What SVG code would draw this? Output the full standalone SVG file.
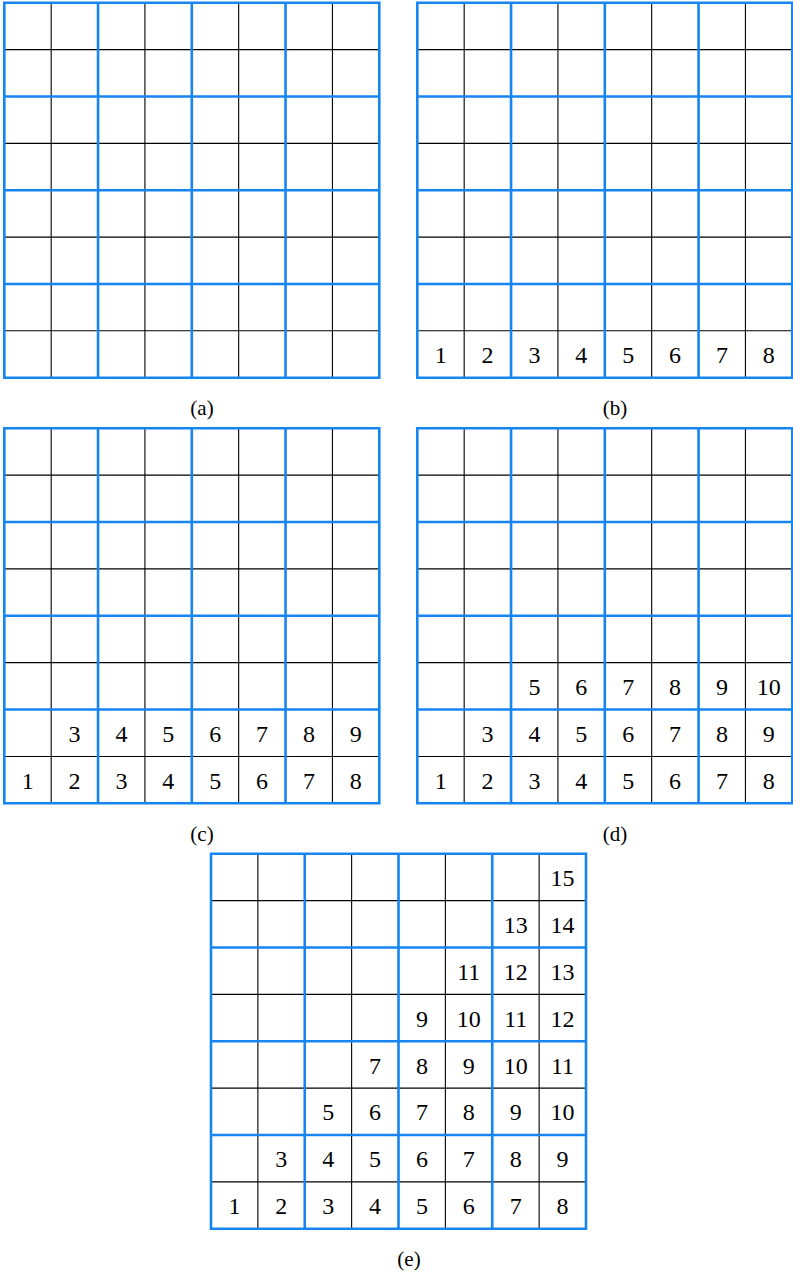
<svg xmlns="http://www.w3.org/2000/svg" xmlns:xlink="http://www.w3.org/1999/xlink" width="793" height="1276" viewBox="0 0 793 1276">
<style>
.bk{stroke:#000;stroke-width:1.1;fill:none}
.bl{stroke:#1685f2;stroke-width:2.6;fill:none;stroke-linecap:square}
.n{font-family:"Liberation Serif","DejaVu Serif",serif;font-size:24px;text-anchor:middle;fill:#000}
.cap{font-family:"Liberation Serif","DejaVu Serif",serif;font-size:21px;text-anchor:middle;fill:#000}
</style>
<defs>
<g id="grid">
<path class="bk" d="M46.875 0V375M140.625 0V375M234.375 0V375M328.125 0V375M0 46.875H375M0 140.625H375M0 234.375H375M0 328.125H375"/>
<path class="bl" d="M0 0V375M93.75 0V375M187.5 0V375M281.25 0V375M375 0V375M0 0H375M0 93.75H375M0 187.5H375M0 281.25H375M0 375H375"/>
</g>
</defs>
<g id="panel-a" transform="translate(4.3,2.7)">
<use xlink:href="#grid"/>
</g>
<g id="panel-b" transform="translate(417.3,2.7)">
<use xlink:href="#grid"/>
<g class="n">
<text x="23.44" y="360.56">1</text><text x="70.31" y="360.56">2</text><text x="117.19" y="360.56">3</text><text x="164.06" y="360.56">4</text><text x="210.94" y="360.56">5</text><text x="257.81" y="360.56">6</text><text x="304.69" y="360.56">7</text><text x="351.56" y="360.56">8</text>
</g>
</g>
<g id="panel-c" transform="translate(4.3,428.3)">
<use xlink:href="#grid"/>
<g class="n">
<text x="23.44" y="360.56">1</text><text x="70.31" y="360.56">2</text><text x="117.19" y="360.56">3</text><text x="164.06" y="360.56">4</text><text x="210.94" y="360.56">5</text><text x="257.81" y="360.56">6</text><text x="304.69" y="360.56">7</text><text x="351.56" y="360.56">8</text>
<text x="70.31" y="313.69">3</text><text x="117.19" y="313.69">4</text><text x="164.06" y="313.69">5</text><text x="210.94" y="313.69">6</text><text x="257.81" y="313.69">7</text><text x="304.69" y="313.69">8</text><text x="351.56" y="313.69">9</text>
</g>
</g>
<g id="panel-d" transform="translate(417.3,428.3)">
<use xlink:href="#grid"/>
<g class="n">
<text x="23.44" y="360.56">1</text><text x="70.31" y="360.56">2</text><text x="117.19" y="360.56">3</text><text x="164.06" y="360.56">4</text><text x="210.94" y="360.56">5</text><text x="257.81" y="360.56">6</text><text x="304.69" y="360.56">7</text><text x="351.56" y="360.56">8</text>
<text x="70.31" y="313.69">3</text><text x="117.19" y="313.69">4</text><text x="164.06" y="313.69">5</text><text x="210.94" y="313.69">6</text><text x="257.81" y="313.69">7</text><text x="304.69" y="313.69">8</text><text x="351.56" y="313.69">9</text>
<text x="117.19" y="266.81">5</text><text x="164.06" y="266.81">6</text><text x="210.94" y="266.81">7</text><text x="257.81" y="266.81">8</text><text x="304.69" y="266.81">9</text><text x="351.56" y="266.81">10</text>
</g>
</g>
<g id="panel-e" transform="translate(211,853.7)">
<use xlink:href="#grid"/>
<g class="n">
<text x="23.44" y="360.56">1</text><text x="70.31" y="360.56">2</text><text x="117.19" y="360.56">3</text><text x="164.06" y="360.56">4</text><text x="210.94" y="360.56">5</text><text x="257.81" y="360.56">6</text><text x="304.69" y="360.56">7</text><text x="351.56" y="360.56">8</text>
<text x="70.31" y="313.69">3</text><text x="117.19" y="313.69">4</text><text x="164.06" y="313.69">5</text><text x="210.94" y="313.69">6</text><text x="257.81" y="313.69">7</text><text x="304.69" y="313.69">8</text><text x="351.56" y="313.69">9</text>
<text x="117.19" y="266.81">5</text><text x="164.06" y="266.81">6</text><text x="210.94" y="266.81">7</text><text x="257.81" y="266.81">8</text><text x="304.69" y="266.81">9</text><text x="351.56" y="266.81">10</text>
<text x="164.06" y="219.94">7</text><text x="210.94" y="219.94">8</text><text x="257.81" y="219.94">9</text><text x="304.69" y="219.94">10</text><text x="351.56" y="219.94">11</text>
<text x="210.94" y="173.06">9</text><text x="257.81" y="173.06">10</text><text x="304.69" y="173.06">11</text><text x="351.56" y="173.06">12</text>
<text x="257.81" y="126.19">11</text><text x="304.69" y="126.19">12</text><text x="351.56" y="126.19">13</text>
<text x="304.69" y="79.31">13</text><text x="351.56" y="79.31">14</text>
<text x="351.56" y="32.44">15</text>
</g>
</g>
<g id="captions" class="cap">
<text x="202" y="415">(a)</text>
<text x="615" y="415">(b)</text>
<text x="202" y="841">(c)</text>
<text x="615" y="841">(d)</text>
<text x="409" y="1266">(e)</text>
</g>
<g id="connectors"/>
</svg>
